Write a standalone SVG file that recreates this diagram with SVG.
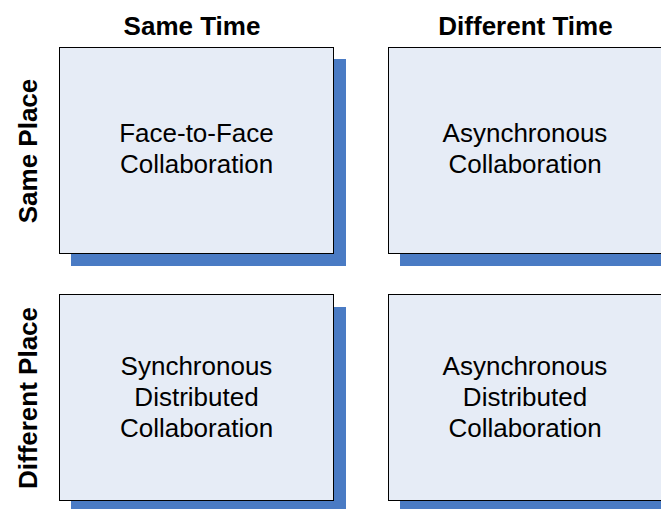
<svg xmlns="http://www.w3.org/2000/svg" width="661" height="509" viewBox="0 0 661 509">
<style>
.sh{fill:#4A7BC4}
.bx{fill:#E6ECF6;stroke:#000;stroke-width:1}
.t{font-family:"Liberation Sans",Arial,sans-serif;font-size:26px;fill:#000;text-anchor:middle}
.h{font-family:"Liberation Sans",Arial,sans-serif;font-size:26px;font-weight:bold;fill:#000;text-anchor:middle}
</style>
<rect width="661" height="509" fill="#fff"/>
<g id="headers">
<text class="h" x="192" y="35">Same Time</text>
<text class="h" x="525.5" y="35">Different Time</text>
<text class="h" transform="translate(37,151) rotate(-90)">Same Place</text>
<text class="h" transform="translate(37,398) rotate(-90)">Different Place</text>
</g>
<g id="box-ftf">
<rect class="sh" x="71" y="59" width="275" height="207"/>
<rect class="bx" x="59.5" y="47.5" width="274" height="206"/>
<text class="t" x="196.5" y="142">Face-to-Face</text>
<text class="t" x="196.5" y="173">Collaboration</text>
</g>
<g id="box-async">
<rect class="sh" x="400" y="59" width="275" height="207"/>
<rect class="bx" x="388.5" y="47.5" width="274" height="206"/>
<text class="t" x="525" y="142">Asynchronous</text>
<text class="t" x="525" y="173">Collaboration</text>
</g>
<g id="box-sync-dist">
<rect class="sh" x="71" y="307" width="275" height="207"/>
<rect class="bx" x="59.5" y="294.5" width="274" height="206"/>
<text class="t" x="196.5" y="375">Synchronous</text>
<text class="t" x="196.5" y="406">Distributed</text>
<text class="t" x="196.5" y="437">Collaboration</text>
</g>
<g id="box-async-dist">
<rect class="sh" x="400" y="307" width="275" height="207"/>
<rect class="bx" x="388.5" y="294.5" width="274" height="206"/>
<text class="t" x="525" y="375">Asynchronous</text>
<text class="t" x="525" y="406">Distributed</text>
<text class="t" x="525" y="437">Collaboration</text>
</g>
<g id="connectors"></g>
</svg>
